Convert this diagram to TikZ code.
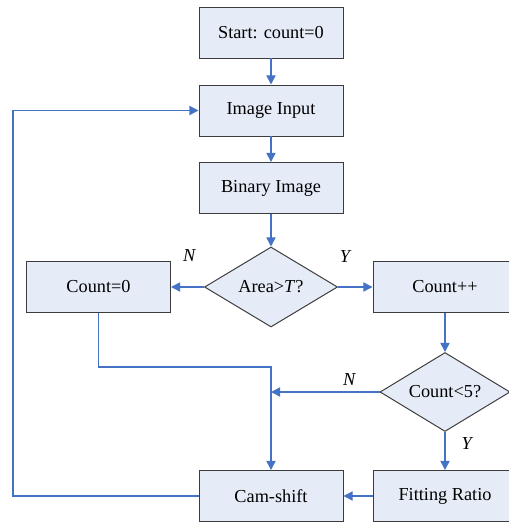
\documentclass[tikz,border=0pt]{standalone}
\usepackage{fontspec}
\setmainfont{Liberation Serif}
\usetikzlibrary{arrows.meta,shapes.geometric}

\definecolor{flowblue}{RGB}{68,114,196}
\definecolor{boxfill}{RGB}{230,236,247}
\definecolor{boxline}{RGB}{60,60,60}

\begin{document}
\begin{tikzpicture}[>={Triangle[length=2.3mm,width=2.3mm]},
  block/.style={draw=boxline,line width=0.7pt,fill=boxfill,minimum width=3.6cm,minimum height=1.275cm},
  test/.style={draw=boxline,line width=0.7pt,fill=boxfill,diamond,aspect=1.66,inner sep=1pt},
  flow/.style={draw=flowblue,line width=1.05pt},
  yn/.style={font=\fontsize{13}{15}\selectfont\itshape,inner sep=0pt},
  every node/.style={font=\fontsize{13}{15}\selectfont}]
\useasboundingbox (0,0) rectangle (12.7,-13.05);
\node[block] (start) at (6.775,-0.8125) {Start: count=0};
\node[block] (input) at (6.775,-2.7625) {Image Input};
\node[block] (binary) at (6.775,-4.7) {Binary Image};
\node[test,minimum width=3.325cm,minimum height=2cm] (area) at (6.775,-7.175) {Area>\textit{T}?};
\node[block] (zero) at (2.4625,-7.175) {Count=0};
\node[block] (inc) at (11.125,-7.175) {Count++};
\node[test,minimum width=3.25cm,minimum height=1.975cm] (check) at (11.125,-9.8) {Count<5?};
\node[block] (fit) at (11.125,-12.4) {Fitting Ratio};
\node[block] (cam) at (6.775,-12.4) {Cam-shift};
\coordinate (join) at (check.west -| cam.north);
\coordinate (knee) at (cam.north |- 0,-9.175);
\coordinate (rail) at (0.325,-7);
\draw[flow,->] (start) -- (input);
\draw[flow,->] (input) -- (binary);
\draw[flow,->] (binary) -- (area);
\draw[flow,->] (area) -- node[yn,pos=0.45,above=0.62cm] {N} (zero);
\draw[flow,->] (area) -- node[yn,pos=0.2,above=0.6cm] {Y} (inc);
\draw[flow,->] (inc) -- (check);
\draw[flow,->] (check) -- node[yn,pos=0.3,right=0.4cm] {Y} (fit);
\draw[flow,->] (fit) -- (cam);
\draw[flow,->] (check.west) -- node[yn,pos=0.28,above=0.15cm] {N} (join);
\draw[flow,->] (zero.south) |- (knee) -- (cam.north);
\draw[flow,->] (cam.west) -| (rail) |- (input.west);
\end{tikzpicture}
\end{document}
